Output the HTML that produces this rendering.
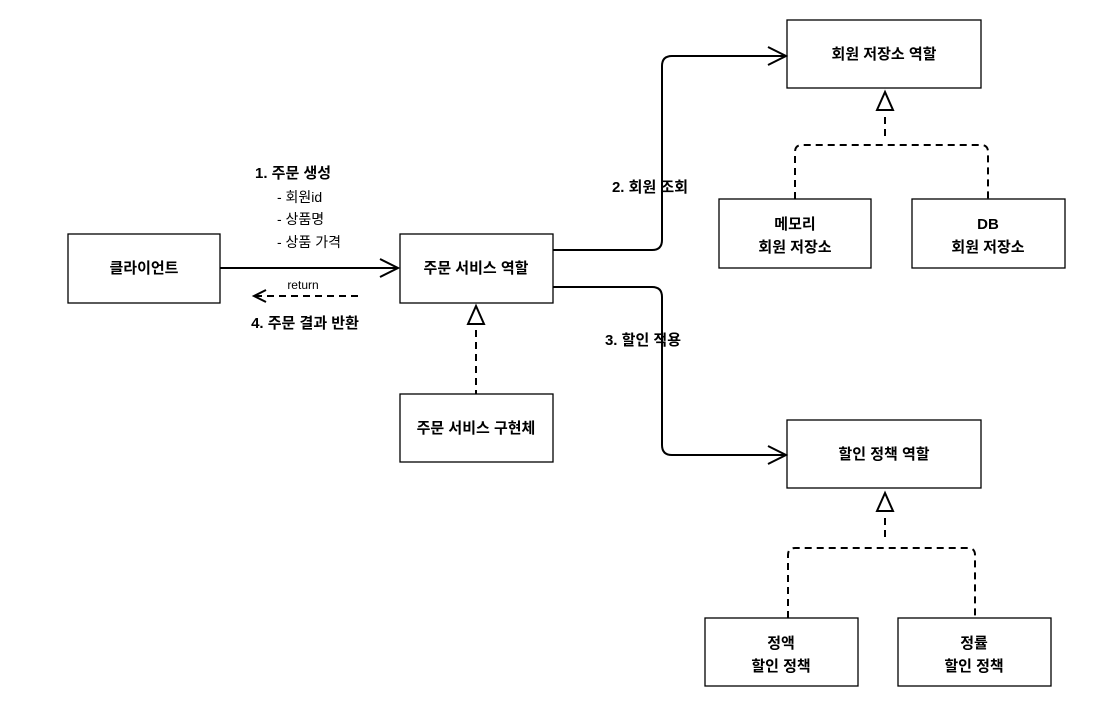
<!DOCTYPE html>
<html><head><meta charset="utf-8"><style>
body{margin:0;background:#fff;}
svg text{font-family:"Liberation Sans","Noto Sans CJK KR",sans-serif;fill:#000;}
.b{font-weight:bold;font-size:15px;}
.n{font-size:14px;}
</style></head><body>
<svg width="1113" height="702" viewBox="0 0 1113 702" xmlns="http://www.w3.org/2000/svg">
<g fill="#fff" stroke="#000" stroke-width="1.3">
<rect x="68" y="234" width="152" height="69"/>
<rect x="400" y="234" width="153" height="69"/>
<rect x="400" y="394" width="153" height="68"/>
<rect x="787" y="20" width="194" height="68"/>
<rect x="719" y="199" width="152" height="69"/>
<rect x="912" y="199" width="153" height="69"/>
<rect x="787" y="420" width="194" height="68"/>
<rect x="705" y="618" width="153" height="68"/>
<rect x="898" y="618" width="153" height="68"/>
</g>
<g fill="none" stroke="#000" stroke-width="2">
<line x1="220" y1="268" x2="397" y2="268"/>
<polyline points="380,259 398,268 380,277"/>
<line x1="358" y1="296" x2="256" y2="296" stroke-dasharray="7,5"/>
<polyline points="266,290 254,296 266,302"/>
<path d="M553 250 H652 Q662 250 662 240 V66 Q662 56 672 56 H784"/>
<polyline points="768,47 786,56 768,65"/>
<path d="M553 287 H652 Q662 287 662 297 V445 Q662 455 672 455 H784"/>
<polyline points="768,446 786,455 768,464"/>
<polygon points="476,306 468,324 484,324"/>
<line x1="476" y1="330" x2="476" y2="394" stroke-dasharray="7,5"/>
<polygon points="885,92 877,110 893,110"/>
<line x1="885" y1="117" x2="885" y2="140" stroke-dasharray="7,5"/>
<path d="M795 199 V152 Q795 145 802 145 H981 Q988 145 988 152 V199" stroke-dasharray="7,5"/>
<polygon points="885,493 877,511 893,511"/>
<line x1="885" y1="518" x2="885" y2="541" stroke-dasharray="7,5"/>
<path d="M788 618 V555 Q788 548 795 548 H968 Q975 548 975 555 V618" stroke-dasharray="7,5"/>
</g>
<g text-anchor="middle">
<text class="b" x="144" y="273">클라이언트</text>
<text class="b" x="476" y="273">주문 서비스 역할</text>
<text class="b" x="476" y="433">주문 서비스 구현체</text>
<text class="b" x="884" y="59">회원 저장소 역할</text>
<text class="b" x="795" y="229">메모리</text>
<text class="b" x="795" y="252">회원 저장소</text>
<text class="b" x="988" y="229">DB</text>
<text class="b" x="988" y="252">회원 저장소</text>
<text class="b" x="884" y="459">할인 정책 역할</text>
<text class="b" x="781" y="648">정액</text>
<text class="b" x="781" y="671">할인 정책</text>
<text class="b" x="974" y="648">정률</text>
<text class="b" x="974" y="671">할인 정책</text>
<text class="b" x="650" y="192">2. 회원 조회</text>
<text class="b" x="643" y="345">3. 할인 적용</text>
<text class="b" x="305" y="328">4. 주문 결과 반환</text>
<text class="n" x="303" y="289" style="font-size:12px">return</text>
</g>
<text class="b" x="255" y="178">1. 주문 생성</text>
<text class="n" x="277" y="202">- 회원id</text>
<text class="n" x="277" y="224">- 상품명</text>
<text class="n" x="277" y="247">- 상품 가격</text>
</svg>
</body></html>
